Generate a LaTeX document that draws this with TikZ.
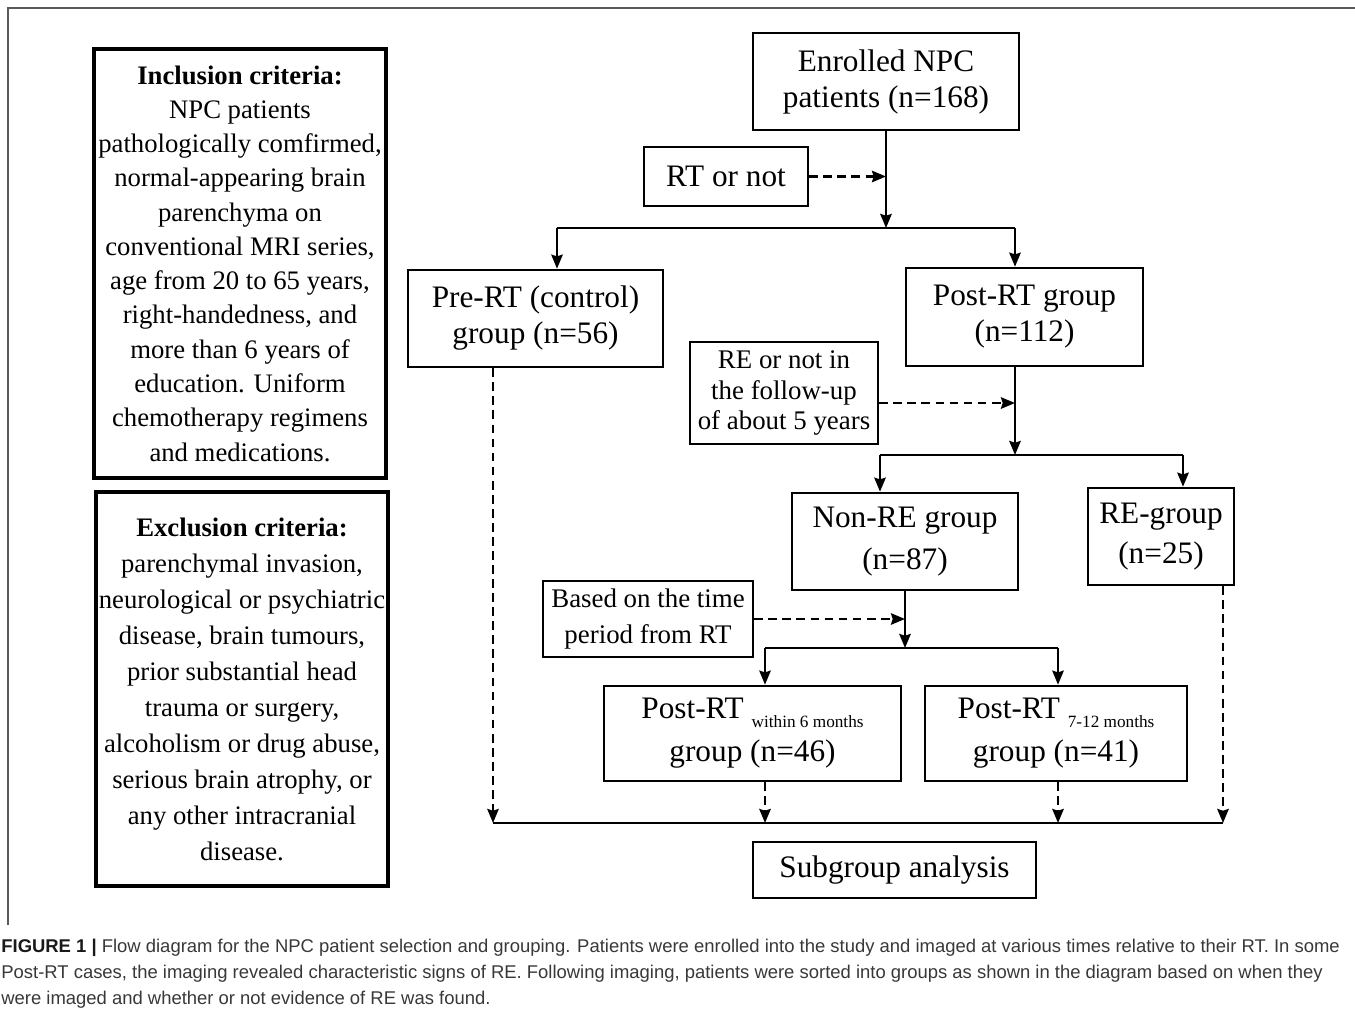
\documentclass[tikz,border=0pt]{standalone}
\usepackage{fontspec}
\setmainfont{Liberation Serif}
\newfontfamily\capfont{Liberation Sans}
\usetikzlibrary{positioning, arrows.meta}

\begin{document}
\begin{tikzpicture}[
  x=0.02cm, y=-0.02cm,
  box/.style={draw, line width=1.5pt, align=center, inner sep=0pt,
    font=\fontsize{17.8}{20.5}\selectfont},
  critbox/.style={box, line width=1.8pt, minimum width=5.84cm},
  askbox/.style={box, font=\fontsize{15.3}{17.6}\selectfont},
  flow/.style={-{Stealth[length=8pt, width=6.5pt, inset=1pt]}, line width=1.35pt},
  dflow/.style={flow, dash pattern=on 5pt off 3pt},
  bar/.style={line width=1.35pt},
  caption/.style={align=left, inner sep=0pt, text=black!78,
    font=\capfont\fontsize{10.5}{14.8}\selectfont}
]
\useasboundingbox (0,0) rectangle (1355,1017);

% --- outer frame ---
\draw[black!65, line width=1pt] (1355,8) -- (8,8) -- (8,925);

% --- criteria on the left ---
\node[critbox, minimum height=8.58cm, font=\fontsize{15.2}{19.5}\selectfont] (incl) at (240,263.5)
  {\textbf{Inclusion criteria:}\\NPC patients\\pathologically comfirmed,\\normal-appearing brain\\parenchyma on\\conventional MRI series,\\age from 20 to 65 years,\\right-handedness, and\\more than 6 years of\\education. Uniform\\chemotherapy regimens\\and medications.};
\node[critbox, minimum height=7.88cm, font=\fontsize{15.2}{20.5}\selectfont] (excl) at (242,689)
  {\textbf{Exclusion criteria:}\\parenchymal invasion,\\neurological or psychiatric\\disease, brain tumours,\\prior substantial head\\trauma or surgery,\\alcoholism or drug abuse,\\serious brain atrophy, or\\any other intracranial\\disease.};

% --- flow chart ---
\node[box, minimum width=5.32cm, minimum height=1.94cm] (enrolled) at (886,81.5)
  {Enrolled NPC\\patients (n=168)};
\node[box, minimum width=3.28cm, minimum height=1.18cm] (rtornot) at (726,176.5) {RT or not};
\node[box, minimum width=5.1cm, minimum height=1.94cm] (prert) at (535.5,318.5)
  {Pre-RT (control)\\group (n=56)};
\node[box, minimum width=4.74cm, minimum height=1.96cm] (postrt) at (1024.5,317)
  {Post-RT group\\(n=112)};
\node[askbox, minimum width=3.76cm, minimum height=2.04cm] (reornot) at (784,393)
  {RE or not in\\the follow-up\\of about 5 years};
\node[box, minimum width=4.52cm, minimum height=1.94cm] (nonre) at (905,541.5)
  {Non-RE group\\[3pt](n=87)};
\node[box, minimum width=2.92cm, minimum height=1.94cm] (regroup) at (1161,536.5)
  {RE-group\\[2pt](n=25)};
\node[askbox, minimum width=4.2cm, minimum height=1.52cm, font=\fontsize{15.3}{20.5}\selectfont] (basedon) at (648,619)
  {Based on the time\\period from RT};
\node[box, minimum width=5.94cm, minimum height=1.9cm] (within) at (752.5,733.5)
  {Post-RT \raisebox{-5pt}{\fontsize{9.8}{10}\selectfont within 6 months}\\[4pt]group (n=46)};
\node[box, minimum width=5.24cm, minimum height=1.9cm] (later) at (1056,733.5)
  {Post-RT \raisebox{-5pt}{\fontsize{9.8}{10}\selectfont 7-12 months}\\[4pt]group (n=41)};
\node[box, minimum width=5.66cm, minimum height=1.12cm] (subgroup) at (894.5,870) {Subgroup analysis};

% junctions
\coordinate (s1) at (886,228);
\coordinate (b1l) at (557,228);
\coordinate (b1r) at (1015,228);
\coordinate (s2) at (1015,455);
\coordinate (b2l) at (880,455);
\coordinate (b2r) at (1183,455);
\coordinate (s3) at (905,648);
\coordinate (b3l) at (765,648);
\coordinate (b3r) at (1058,648);
\coordinate (b4l) at (493,823);
\coordinate (b4r) at (1223,823);
\coordinate (m1) at (765,823);
\coordinate (m2) at (1058,823);

% RT or not
\draw[flow] (enrolled) -- (s1);
\draw[dflow] (rtornot.east) -- (rtornot.east -| s1);
\draw[bar] (b1l) -- (b1r);
\draw[flow] (b1l) -- (b1l |- prert.north);
\draw[flow] (b1r) -- (b1r |- postrt.north);

% RE or not
\draw[flow] (postrt.south -| s2) -- (s2);
\draw[dflow] (reornot.-6) -- (reornot.-6 -| s2);
\draw[bar] (b2l) -- (b2r);
\draw[flow] (b2l) -- (b2l |- nonre.north);
\draw[flow] (b2r) -- (b2r |- regroup.north);

% time from RT
\draw[flow] (nonre) -- (s3);
\draw[dflow] (basedon.east) -- (basedon.east -| s3);
\draw[bar] (b3l) -- (b3r);
\draw[flow] (b3l) -- (b3l |- within.north);
\draw[flow] (b3r) -- (b3r |- later.north);

% all groups into the analysis
\draw[dflow] (prert.south -| b4l) -- (b4l);
\draw[dflow] (within.south -| m1) -- (m1);
\draw[dflow] (later.south -| m2) -- (m2);
\draw[dflow] (regroup.south -| b4r) -- (b4r);
\draw[bar] (b4l) -- (b4r);

% --- caption ---
\node[caption, anchor=north west] (cap) at (1,939)
  {\textbf{\color{black!90}FIGURE 1 |} Flow diagram for the NPC patient selection and grouping. Patients were enrolled into the study and imaged at various times relative to their RT. In some\\
   Post-RT cases, the imaging revealed characteristic signs of RE. Following imaging, patients were sorted into groups as shown in the diagram based on when they\\
   were imaged and whether or not evidence of RE was found.};
\end{tikzpicture}
\end{document}
